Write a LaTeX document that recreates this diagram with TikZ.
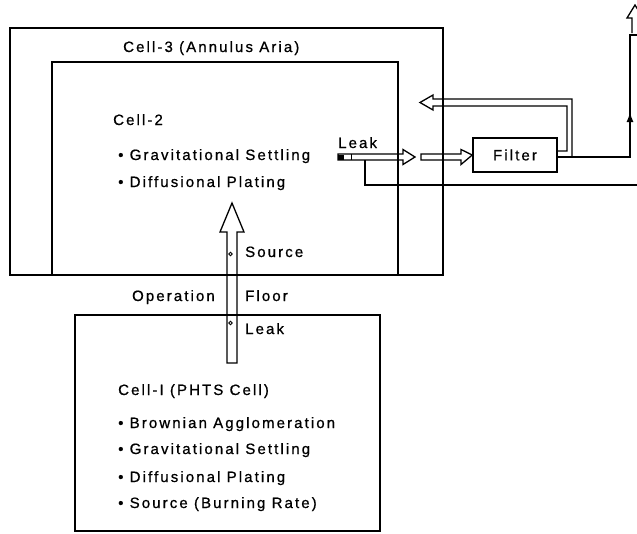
\documentclass[tikz,border=0pt]{standalone}
\usepackage{fontspec}
\setmainfont{Liberation Sans}[LetterSpace=14,FakeBold=0.8]
\usetikzlibrary{arrows.meta,calc}
\begin{document}
\begin{tikzpicture}[x=1pt,y=-1pt,
  box/.style={draw, line width=1.5pt, rectangle, inner sep=0pt},
  lbl/.style={inner sep=0pt, anchor=base west, font=\fontsize{15}{17}\selectfont},
  lble/.style={inner sep=0pt, anchor=base east, font=\fontsize{15}{17}\selectfont},
  pipe/.style={draw, line width=1.3pt, line join=miter},
  wire/.style={draw, line width=1.5pt}]
\useasboundingbox (0,0) rectangle (637,533);
\clip (0,0) rectangle (637,533);
% boxes
\node[box, minimum width=433pt, minimum height=247pt] (cell3) at (226.5,151.5) {};
\node[box, minimum width=346pt, minimum height=213pt] (cell2) at (225,168.5) {};
\node[box, minimum width=305pt, minimum height=216pt] (cell1) at (227.5,423) {};
\node[box, minimum width=84pt, minimum height=34pt, font=\fontsize{15}{17}\selectfont] (filter) at (515,155) {Filter};
% texts
\node[lbl] (t3) at (123,52) {Cell-3 (Annulus Aria)};
\node[lbl] (t2) at (113,125) {Cell-2};
\node[lbl] (t2a) at (118,160) {• Gravitational Settling};
\node[lbl] (t2b) at (118,187) {• Diffusional Plating};
\node[lbl] (tleak1) at (338,148) {Leak};
\node[lbl] (tsrc) at (245,257) {Source};
\node[lble] (top) at (215,301) {Operation};
\node[lbl] (tfl) at (245,301) {Floor};
\node[lbl] (tleak2) at (245,334) {Leak};
\node[lbl] (t1) at (118,395) {Cell-I (PHTS Cell)};
\node[lbl] (t1a) at (118,428) {• Brownian Agglomeration};
\node[lbl] (t1b) at (118,454) {• Gravitational Settling};
\node[lbl] (t1c) at (118,482) {• Diffusional Plating};
\node[lbl] (t1d) at (118,508) {• Source (Burning Rate)};
% vertical hollow arrow from cell1 to cell2
\coordinate (vb) at (232,363);
\coordinate (vt) at (232,203);
\draw[pipe] ($(vb)+(-5,0)$) -- (227,232) -- (220,232) -- (vt) -- (244,232) -- (237,232) -- (237,363) -- cycle;
\draw[line width=0.9pt] (230.5,254) circle (1.8);
\draw[line width=0.9pt] (230.5,323) circle (1.8);
% horizontal leak pipe
\coordinate (la) at (338,157);
\coordinate (lb) at (415,157);
\draw[pipe] (338,154) -- (403,154) -- (403,149.5) -- (lb) -- (403,164.5) -- (403,160) -- (338,160) -- cycle;
\fill (338,154.5) rectangle (344,159.5);
\draw[line width=0.9pt] (351,154) -- (351,160);
% second pipe to filter
\draw[pipe] (421,154) -- (461,154) -- (461,149.5) -- (filter.west) -- (461,164.5) -- (461,160) -- (421,160) -- cycle;
% return pipe from filter
\draw[pipe] (filter.east |- 0,151) -- (567,151) -- (567,106) -- (433,106) -- (433,110) -- (420,102.5) -- (433,95) -- (433,99) -- (572,99) -- (572,157);
% filter output to stack
\coordinate (stk) at (630,35);
\draw[wire] (filter.east |- 0,157) -- (630,157) -- (stk) -- (640,35);
\draw[wire, -{Latex[length=10pt,width=7pt]}] (630,157) -- (630,112);
\draw[pipe] (632,33) -- (632,18) -- (627,18) -- (635,5) -- (643,18) -- (638,18);
% bypass line from leak
\draw[wire] (365,160) -- (365,185) -- (640,185);
\end{tikzpicture}
\end{document}
